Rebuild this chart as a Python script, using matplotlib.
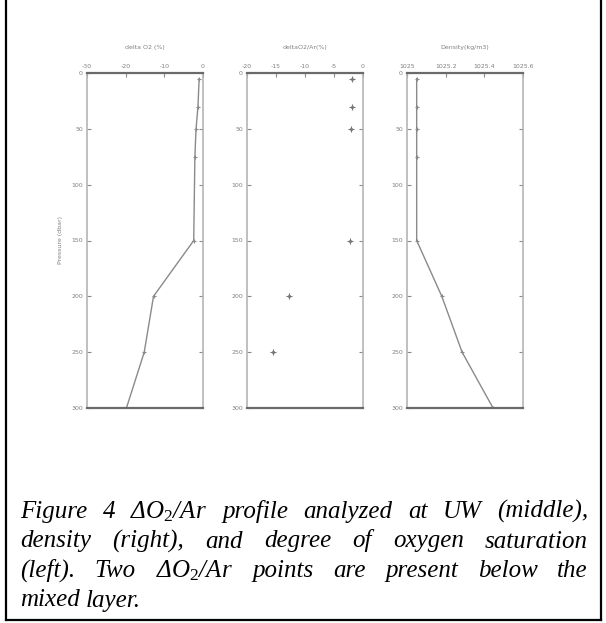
import matplotlib
matplotlib.use('Agg')
import matplotlib.pyplot as plt
from matplotlib.lines import Line2D

# depth (m) of each sample
depth = [5, 30, 50, 75, 150, 200, 250, 300]
# left panel: degree of oxygen saturation
delta_o2 = [-1.0, -1.3, -1.8, -2.1, -2.4, -12.8, -15.2, -19.8]
# middle panel: dO2/Ar measured at UW
dar_depth = [5, 30, 50, 150, 200, 250]
delta_o2ar = [-1.9, -1.9, -2.0, -2.2, -12.8, -15.5]
# right panel: density
density = [1025.05, 1025.05, 1025.05, 1025.05, 1025.05, 1025.18, 1025.285, 1025.445]

titles = ['delta O2 (%)', 'deltaO2/Ar(%)', 'Density(kg/m3)']
xticks = [[-30, -20, -10, 0], [-20, -15, -10, -5, 0], [1025, 1025.2, 1025.4, 1025.6]]
xticklabels = [['-30', '-20', '-10', '0'], ['-20', '-15', '-10', '-5', '0'],
               ['1025', '1025.2', '1025.4', '1025.6']]
xlims = [(-30, 0), (-20, 0), (1025, 1025.6)]
yticks = [0, 50, 100, 150, 200, 250, 300]

W, H = 606, 623
fig = plt.figure(figsize=(W / 100, H / 100), dpi=100)
fig.patch.set_facecolor('white')

gray = '#8a8a8a'
lefts = [87, 247, 407]
axes = []
for i, x0 in enumerate(lefts):
    ax = fig.add_axes([x0 / W, 1 - 408 / H, 116 / W, 335 / H])
    ax.set_xlim(*xlims[i])
    ax.set_ylim(300, 0)
    ax.xaxis.tick_top()
    ax.set_xticks(xticks[i])
    ax.set_xticklabels(xticklabels[i])
    ax.set_yticks(yticks)
    ax.tick_params(axis='both', direction='in', length=3, width=0.8, color=gray,
                   labelsize=4.5, labelcolor='#808080', pad=3)
    ax.tick_params(axis='y', right=True)
    for s in ['top', 'bottom']:
        ax.spines[s].set_color('#6a6a6a')
        ax.spines[s].set_linewidth(1.6)
    for s in ['left', 'right']:
        ax.spines[s].set_color('#b5b5b5')
        ax.spines[s].set_linewidth(1.2)
    ax.set_title(titles[i], fontsize=4.5, color='#808080', pad=17)
    axes.append(ax)

axes[0].plot(delta_o2, depth, color=gray, lw=1.0, marker='+', ms=3, mew=0.8)
axes[1].plot(delta_o2ar, dar_depth, ls='none', color='#777777', marker='+', ms=4, mew=0.8)
axes[1].plot(delta_o2ar, dar_depth, ls='none', color='#777777', marker='.', ms=2.5)
axes[2].plot(density, depth, color=gray, lw=1.0, marker='+', ms=3, mew=0.8)
axes[0].set_ylabel('Pressure (dbar)', fontsize=4.5, color='#808080', labelpad=6)

# outer frame of the scanned page
def px_line(x1, y1, x2, y2):
    fig.add_artist(Line2D([x1 / W, x2 / W], [1 - y1 / H, 1 - y2 / H],
                          color='black', lw=1.6, transform=fig.transFigure))

px_line(5.5, 0, 5.5, 619.5)
px_line(5.5, 619.5, 600.5, 619.5)
px_line(600.5, 0, 600.5, 619.5)

# caption, justified like the source text
plt.rcParams['mathtext.fontset'] = 'custom'
plt.rcParams['mathtext.it'] = 'Liberation Serif:italic'
plt.rcParams['mathtext.rm'] = 'Liberation Serif'
cap_lines = [
    ['Figure', '4', r'Δ$O_2$/Ar', 'profile', 'analyzed', 'at', 'UW', '(middle),'],
    ['density', '(right),', 'and', 'degree', 'of', 'oxygen', 'saturation'],
    ['(left).', 'Two', r'Δ$O_2$/Ar', 'points', 'are', 'present', 'below', 'the'],
    ['mixed', 'layer.'],
]
cap_y = [518, 547.5, 577, 606.5]
x_left, x_right = 20, 588
fig.canvas.draw()
renderer = fig.canvas.get_renderer()
for li, words in enumerate(cap_lines):
    texts = []
    for w in words:
        t = fig.text(0, 1 - cap_y[li] / H, w, fontsize=18, family='Liberation Serif',
                     style='italic', va='baseline', ha='left', color='black')
        texts.append(t)
    widths = [t.get_window_extent(renderer).width for t in texts]
    if li < len(cap_lines) - 1:
        gap = (x_right - x_left - sum(widths)) / (len(words) - 1)
    else:
        gap = 5.5
    x = x_left
    for t, w in zip(texts, widths):
        t.set_x(x / W)
        x += w + gap

fig.savefig('out.png', dpi=100, facecolor='white')
